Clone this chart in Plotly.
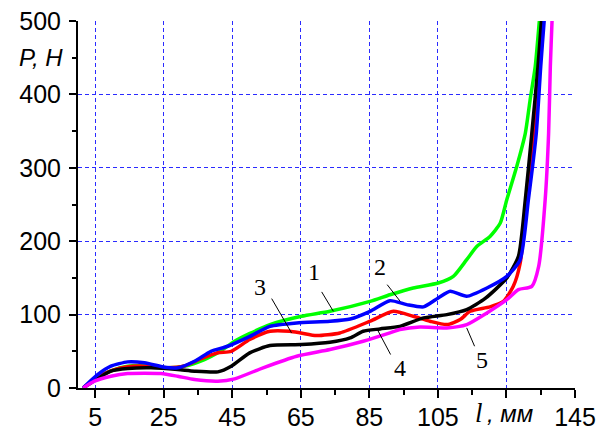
import plotly.graph_objects as go

# Load P (N) versus displacement l (mm) for five specimens
l_1 = [1.5, 5.8, 10, 14.5, 18, 21.3, 26.2, 31, 36.9, 40.8, 45.7, 50, 56, 65.2, 73.5, 85.2, 91, 97.8,
       105.1, 109.5, 113.4, 116.4, 120.2, 123.2, 125.1, 128, 130.5, 131.9, 133.4, 134.6, 135.0]
p_1 = [0, 15, 24, 29.7, 30.5, 29.7, 27.5, 29.7, 38.8, 47.9, 63.7, 74, 86.4, 97.7, 104.5, 118, 127, 136.3,
       143, 152, 174.8, 193, 206.5, 224.7, 256.5, 301.8, 347, 392.5, 438, 500, 520]

l_2 = [1.5, 5.8, 9.6, 14.5, 19.4, 25.2, 29.1, 34, 38.8, 43.7, 50, 56, 63.8, 73.5, 79.4, 85.2, 91, 95.9,
       100.8, 105.1, 108.6, 113.4, 119.3, 125.1, 129, 131.4, 133.7, 135, 136, 136.4]
p_2 = [0, 18.4, 29.7, 35.6, 34.3, 28.3, 27.5, 36.5, 50, 56.9, 70, 84, 88.7, 90.9, 94, 104.5, 119, 113.6,
       110.5, 122.7, 131.7, 124.9, 136.3, 152.1, 174.8, 256.5, 347, 438, 500, 520]

l_3 = [1.5, 5.8, 10, 14.5, 18, 22, 26.2, 31, 36, 40.8, 44.7, 50.1, 56, 61.8, 65, 69.6, 76.4, 85.2, 92,
       97.8, 102.7, 107.6, 111.5, 114.4, 120.2, 124.1, 127, 129, 131, 132.9, 134.6, 135.5, 135.8]
p_3 = [0, 15, 24, 29, 30, 29, 27.5, 30, 40, 48, 50, 66, 77.3, 77.3, 75, 71.4, 75, 91, 104.5,
       97.7, 90.9, 86.4, 93.2, 104.5, 110.5, 118, 138.5, 170, 256.5, 347, 438, 500, 520]

l_4 = [1.5, 5.8, 9.6, 14.5, 21.3, 29.1, 34, 40.8, 44.7, 50.1, 56, 65.2, 73.5, 79.4, 83.2, 88.1, 93.9,
       100.8, 107.6, 113.4, 118.8, 125.1, 128.5, 130.5, 132.4, 134.2, 135.2, 135.5]
p_4 = [0, 13, 22.9, 26.5, 27.5, 25.2, 22.9, 22, 29.7, 47.9, 57.8, 59.2, 62.3, 68.3, 77.3, 80.5, 84,
       95.5, 100, 106.8, 122, 150, 179.3, 256.5, 347, 438, 500, 520]

l_5 = [1.5, 4.8, 9.6, 14.5, 24.2, 29.1, 34, 40.8, 45.7, 54, 63.8, 73.5, 83.2, 91, 93.9, 99.8, 107.6,
       113.4, 119.3, 125.1, 128.5, 132.4, 134.4, 136.3, 137.3, 137.8, 138.3, 138.5]
p_5 = [0, 9.3, 16, 19.7, 19.7, 16, 11.6, 9.3, 12.5, 27.5, 43.3, 52.4, 63.7, 75, 79.6, 83.1, 81.9,
       86.4, 102.3, 120.4, 134, 138.5, 165.7, 256.5, 347, 437.8, 500, 520]

series_x = [l_1, l_2, l_3, l_4, l_5]
series_y = [p_1, p_2, p_3, p_4, p_5]
colors = ["#00ff00", "#0000ff", "#ff0000", "#000000", "#ff00ff"]
draw_order = [0, 2, 3, 1, 4]

x_tickvals = [5, 25, 45, 65, 85, 105, 125, 145]
x_ticktext = ["5", "25", "45", "65", "85", "105", "", "145"]
y_tickvals = [0, 100, 200, 300, 400, 500]
y_ticktext = ["0", "100", "200", "300", "400", "500"]

# curve numbers: label position and leader line (label end -> curve end)
curve_labels = ["1", "2", "3", "4", "5"]
label_pos = [(68.8, 158.4), (88.1, 165.3), (53.1, 138.1), (94.0, 27.5), (117.8, 38.8)]
leader_from = [(71.1, 130.9), (90.2, 140.8), (56.5, 121.8), (91.2, 45.6), (115.7, 56.9)]
leader_to = [(74.5, 104.5), (94.0, 118.1), (62.3, 75.1), (87.5, 78.2), (113.4, 81.9)]

fig = go.Figure()
for i in draw_order:
    fig.add_trace(go.Scatter(
        x=series_x[i], y=series_y[i], mode="lines",
        line=dict(color=colors[i], width=3.5, shape="spline", smoothing=0.6),
        showlegend=False, hoverinfo="skip",
    ))

for txt, (lx, ly) in zip(curve_labels, label_pos):
    fig.add_annotation(x=lx, y=ly, text=txt, showarrow=False,
                       font=dict(family="Liberation Serif", size=24, color="black"))
for (x0, y0), (x1, y1) in zip(leader_from, leader_to):
    fig.add_shape(type="line", x0=x0, y0=y0, x1=x1, y1=y1, xref="x", yref="y",
                  line=dict(color="black", width=1))

# axis titles placed in tick-label slots
fig.add_annotation(x=117.0, y=0, xref="x", yref="paper", yshift=-25, showarrow=False,
                   xanchor="center", yanchor="middle", text="l",
                   font=dict(family="Liberation Serif", size=27, color="black", style="italic"))
fig.add_annotation(x=118.6, y=0, xref="x", yref="paper", yshift=-25, showarrow=False,
                   xanchor="left", yanchor="middle", text=", мм",
                   font=dict(family="Liberation Sans", size=24, color="black", style="italic"))
fig.add_annotation(x=0, y=450, xref="paper", yref="y", xshift=-37, showarrow=False,
                   xanchor="center", yanchor="middle", text="P, H",
                   font=dict(family="Liberation Sans", size=24, color="black", style="italic"))

grid = dict(showgrid=True, gridcolor="#2b2bff", gridwidth=1, griddash="4px,3px")
fig.update_xaxes(range=[0, 145], tickvals=x_tickvals, ticktext=x_ticktext, automargin=False,
                 showline=True, linecolor="black", linewidth=2, zeroline=False,
                 ticks="outside", ticklen=8, tickwidth=2, tickcolor="black",
                 ticklabelstandoff=-2,
                 minor=dict(ticks="outside", ticklen=5, tickwidth=2, tickcolor="black",
                            tick0=5, dtick=10, showgrid=False),
                 tickfont=dict(family="Liberation Sans", size=25, color="black"), **grid)
fig.update_yaxes(range=[0, 500], tickvals=y_tickvals, ticktext=y_ticktext, automargin=False,
                 showline=True, linecolor="black", linewidth=2, zeroline=False,
                 ticks="outside", ticklen=7, tickwidth=2, tickcolor="black",
                 ticklabelstandoff=3,
                 minor=dict(ticks="outside", ticklen=4, tickwidth=2, tickcolor="black",
                            tick0=0, dtick=50, showgrid=False),
                 tickfont=dict(family="Liberation Sans", size=25, color="black"), **grid)

fig.update_layout(width=603, height=432, margin=dict(l=78, r=28, t=21, b=44),
                  plot_bgcolor="white", paper_bgcolor="white")

fig.write_html("out.html")
